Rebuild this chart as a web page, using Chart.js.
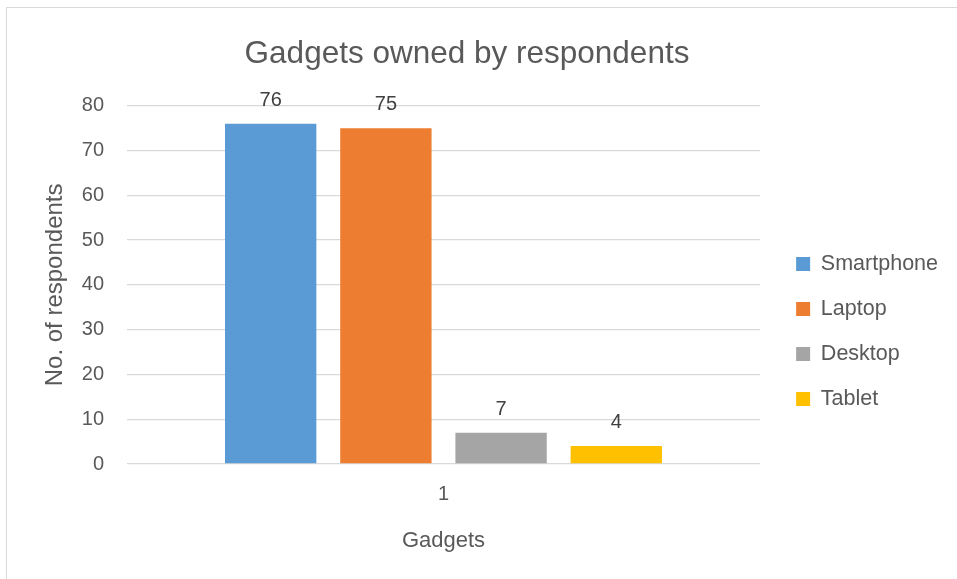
<!DOCTYPE html>
<html>
<head>
<meta charset="utf-8">
<title>Gadgets owned by respondents</title>
<script src="https://cdn.jsdelivr.net/npm/chart.js@4.4.1/dist/chart.umd.min.js"></script>
<style>
  html, body { margin: 0; padding: 0; background: #fff; overflow: hidden; }
  .frame {
    position: absolute; left: 6px; top: 7px; width: 1200px; height: 800px;
    border-left: 1px solid #d9d9d9; border-top: 1px solid #d9d9d9;
  }
  #gadgetsChart { position: absolute; left: 0; top: 0; }
</style>
</head>
<body>
<div class="frame"></div>
<canvas id="gadgetsChart" width="957" height="579"></canvas>
<script>
// data
const categories = ['1'];
const seriesNames = ['Smartphone', 'Laptop', 'Desktop', 'Tablet'];
const smartphone = [76];
const laptop = [75];
const desktop = [7];
const tablet = [4];
const yTickValues = [0, 10, 20, 30, 40, 50, 60, 70, 80];

const seriesColors = ['#5B9BD5', '#ED7D31', '#A5A5A5', '#FFC000'];
const textColor = '#595959';

Chart.defaults.font.family = '"Liberation Sans", Arial, sans-serif';

// values above the bars (no datalabels plugin offline)
const barValueLabels = {
  id: 'barValueLabels',
  afterDatasetsDraw(chart) {
    const ctx = chart.ctx;
    ctx.save();
    ctx.font = '20px "Liberation Sans", Arial, sans-serif';
    ctx.fillStyle = '#404040';
    ctx.textAlign = 'center';
    ctx.textBaseline = 'alphabetic';
    chart.data.datasets.forEach((ds, i) => {
      chart.getDatasetMeta(i).data.forEach((bar, j) => {
        ctx.fillText(ds.data[j], bar.x, bar.y - 18);
      });
    });
    ctx.restore();
  }
};

const seriesData = [smartphone, laptop, desktop, tablet];

new Chart(document.getElementById('gadgetsChart'), {
  type: 'bar',
  data: {
    labels: categories,
    datasets: seriesNames.map((name, i) => ({
      label: name,
      data: seriesData[i],
      backgroundColor: seriesColors[i],
      borderWidth: 0,
      categoryPercentage: 0.728,
      barPercentage: 0.793
    }))
  },
  options: {
    responsive: false,
    animation: false,
    layout: { padding: { left: -14, right: 9, top: 0, bottom: 0 } },
    plugins: {
      title: {
        display: true,
        text: 'Gadgets owned by respondents',
        color: textColor,
        font: { size: 31.5, weight: 'normal' },
        padding: { top: 35, bottom: 33 }
      },
      legend: {
        position: 'right',
        maxWidth: 220,
        // empty title only pushes the items down
        title: { display: true, text: '', padding: { top: 69.6, bottom: 0 } },
        labels: {
          boxWidth: 14,
          boxHeight: 14,
          padding: 23.5,
          color: textColor,
          font: { size: 21.5 }
        }
      },
      tooltip: { enabled: false }
    },
    scales: {
      x: {
        grid: { display: false, drawTicks: false },
        border: { display: false },
        ticks: { color: textColor, font: { size: 20 }, padding: 18 },
        title: {
          display: true,
          text: 'Gadgets',
          color: textColor,
          font: { size: 22 },
          padding: { top: 20, bottom: 24.8 }
        },
        afterFit: s => { s.height = 115; }
      },
      y: {
        min: yTickValues[0],
        max: yTickValues[yTickValues.length - 1],
        afterBuildTicks: s => { s.ticks = yTickValues.map(v => ({ value: v })); },
        grid: { color: '#d9d9d9', lineWidth: 1.3, drawTicks: false },
        border: { display: false },
        ticks: { color: textColor, font: { size: 20 }, padding: 23 },
        title: {
          display: true,
          text: 'No. of respondents',
          color: textColor,
          font: { size: 24 },
          padding: { top: 54.6, bottom: 10 }
        },
        afterFit: s => { s.width = 141; }
      },
      // empty axis, keeps a gap between plot and legend
      gap: {
        position: 'right',
        grid: { display: false },
        border: { display: false },
        ticks: { display: false },
        afterFit: s => { s.width = 12.65; }
      }
    }
  },
  plugins: [barValueLabels]
});
</script>
</body>
</html>
